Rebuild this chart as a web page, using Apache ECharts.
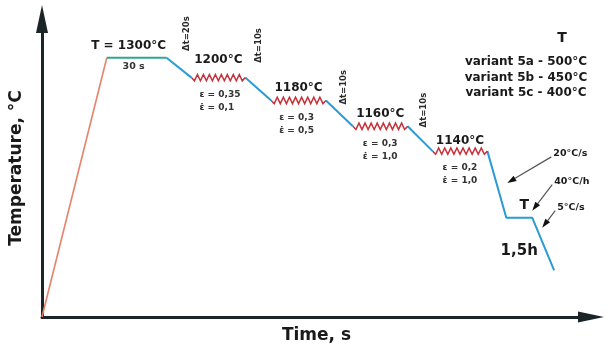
<!DOCTYPE html>
<html>
<head>
<meta charset="utf-8">
<script src="https://cdn.jsdelivr.net/npm/echarts@6/dist/echarts.min.js"></script>
<style>
  html, body { margin: 0; padding: 0; background: #fff; }
  #chart { width: 608px; height: 349px; }
</style>
</head>
<body>
<div id="chart"></div>
<script>
// Thermomechanical schedule, schematic units (time -> x, temperature -> y)
const heating = [[0, 0], [65, 261]];
const soak = [[65, 261], [125, 261]];
const passStart = [150, 230, 312, 392];
const passEnd = [204, 285, 367, 447];
const passLevel = [241, 218, 192, 167];
const passTemps = ['1200°C', '1180°C', '1160°C', '1140°C'];
const strains = ['0,35', '0,3', '0,3', '0,2'];
const strainRates = ['0,1', '0,5', '1,0', '1,0'];
const transferTimes = ['Δt=20s', 'Δt=10s', 'Δt=10s', 'Δt=10s'];
const coolingPath = [[447, 167], [466, 100], [492, 100], [514, 47]];
const coolingRates = ['20°C/s', '40°C/h', '5°C/s'];
const variants = ['variant 5a - 500°C', 'variant 5b - 450°C', 'variant 5c - 400°C'];
const soakLabel = 'T = 1300°C';
const soakTime = '30 s';
const holdLabel = 'T';
const holdTime = '1,5h';

const FONT = '"DejaVu Sans", "Liberation Sans", sans-serif';
const INK = '#1a1a1a';
const GREY = '#333';
const BLUE = '#2a9bd4';

// transfer lines between the soak and the passes, and between passes
const transfers = passStart.map((x, i) => i === 0
  ? [soak[1], [x, passLevel[0]]]
  : [[passEnd[i - 1], passLevel[i - 1]], [x, passLevel[i]]]);

const plain = (data, color, width) => ({
  type: 'line', data, showSymbol: false, silent: true,
  lineStyle: { color, width }, z: 3
});

const chart = echarts.init(document.getElementById('chart'), null, { renderer: 'canvas' });

const axisCommon = {
  type: 'value', min: 0,
  axisTick: { show: false }, axisLabel: { show: false }, splitLine: { show: false },
  nameLocation: 'middle',
  nameTextStyle: { fontFamily: FONT, fontWeight: 'bold', fontSize: 17, color: INK }
};

const tempLift = [-18, -13, -12, -10];
const strainIndent = [8, 8, 10, 10];

chart.setOption({
  animation: false,
  grid: { left: 40, right: 17, top: 19, bottom: 30 },
  xAxis: Object.assign({}, axisCommon, {
    max: 551, name: 'Time, s', nameGap: 10,
    axisLine: { show: true, symbol: ['none', 'triangle'], symbolSize: [11, 26],
      lineStyle: { color: '#1b2426', width: 3 } }
  }),
  yAxis: Object.assign({}, axisCommon, {
    max: 300, name: 'Temperature, °C', nameGap: 17,
    axisLine: { show: true, symbol: ['none', 'triangle'], symbolSize: [12, 28],
      lineStyle: { color: '#1b2426', width: 3 } }
  }),
  series: [
    plain(heating, '#e8836b', 1.6),
    plain(soak, '#2fa88a', 2.2),
    ...transfers.map(seg => plain(seg, BLUE, 2)),
    plain(coolingPath, BLUE, 2),
    {
      // deformation passes: zigzag with temperature and strain labels
      type: 'custom', silent: true, z: 4,
      data: passStart.map((x, i) => [x, passEnd[i], passLevel[i], i]),
      encode: { x: [0, 1], y: 2 },
      renderItem(params, api) {
        const i = api.value(3);
        const y = api.value(2);
        const a = api.coord([api.value(0), y]);
        const b = api.coord([api.value(1), y]);
        const teeth = 9, amp = 3.2;
        const step = (b[0] - a[0]) / (teeth * 2);
        const pts = [a];
        for (let k = 1; k < teeth * 2; k++) {
          pts.push([a[0] + k * step, a[1] + (k % 2 ? amp : -amp)]);
        }
        pts.push(b);
        const label = (x, yy, text, font, fill, align) => ({
          type: 'text', x, y: yy,
          style: { text, font, fill, align, verticalAlign: 'middle' }
        });
        return {
          type: 'group',
          children: [
            { type: 'polyline', shape: { points: pts },
              style: { stroke: '#c8313a', lineWidth: 1.5, fill: null } },
            label((a[0] + b[0]) / 2, a[1] + tempLift[i], passTemps[i],
              'bold 12px ' + FONT, INK, 'center'),
            label(a[0] + strainIndent[i], a[1] + 17, 'ε = ' + strains[i],
              'bold 9px ' + FONT, GREY, 'left'),
            label(a[0] + strainIndent[i], a[1] + 30, 'ε\u0307 = ' + strainRates[i],
              'bold 9px ' + FONT, GREY, 'left')
          ]
        };
      }
    }
  ]
});

// annotations anchored to points of the schedule
const P = pt => chart.convertToPixel({ gridIndex: 0 }, pt);
const text = (x, y, str, font, opt = {}) => ({
  type: 'text', x, y, rotation: opt.rot || 0, silent: true, z: 10,
  style: {
    text: str, font, fill: opt.fill || INK,
    textAlign: opt.align || 'center', textVerticalAlign: 'middle',
    align: opt.align || 'center', verticalAlign: 'middle'
  }
});
const leader = (from, tip) => {
  const dx = tip[0] - from[0], dy = tip[1] - from[1];
  const len = Math.hypot(dx, dy), ux = dx / len, uy = dy / len;
  const headLen = 9, headW = 3;
  const base = [tip[0] - ux * headLen, tip[1] - uy * headLen];
  return [
    { type: 'line', silent: true, z: 9,
      shape: { x1: from[0], y1: from[1], x2: base[0], y2: base[1] },
      style: { stroke: '#555', lineWidth: 1.2 } },
    { type: 'polygon', silent: true, z: 9,
      shape: { points: [tip,
        [base[0] - uy * headW, base[1] + ux * headW],
        [base[0] + uy * headW, base[1] - ux * headW]] },
      style: { fill: '#111' } }
  ];
};

const g = [];
const soakMid = P([(soak[0][0] + soak[1][0]) / 2, soak[0][1]]);
g.push(text(soakMid[0] - 8, soakMid[1] - 12, soakLabel, 'bold 12px ' + FONT));
g.push(text(soakMid[0] - 3, soakMid[1] + 9, soakTime, 'bold 9.5px ' + FONT, { fill: GREY }));

const dtOffset = [[-5, -44], [-12, -55], [-9, -39], [-9, -41]];
transfers.forEach((seg, i) => {
  const e = P(seg[1]);
  g.push(text(e[0] + dtOffset[i][0], e[1] + dtOffset[i][1], transferTimes[i],
    'bold 8.5px ' + FONT, { fill: '#2a2a2a', rot: Math.PI / 2 }));
});

// legend of the hold temperature variants
g.push(text(562, 38, 'T', 'bold 14px ' + FONT));
variants.forEach((v, i) => g.push(text(526, 62 + i * 15.5, v, 'bold 12px ' + FONT)));

const quenchA = P(coolingPath[0]), quenchB = P(coolingPath[1]);
const holdEnd = P(coolingPath[2]);
g.push(text(holdEnd[0] - 8, holdEnd[1] - 12, holdLabel, 'bold 14px ' + FONT));
g.push(text(holdEnd[0] - 13, holdEnd[1] + 33, holdTime, 'bold 15px ' + FONT));

const tips = [
  [(quenchA[0] + quenchB[0]) / 2 + 10.5, (quenchA[1] + quenchB[1]) / 2 - 1.5],
  [holdEnd[0], holdEnd[1] - 7],
  [holdEnd[0] + 10, holdEnd[1] + 10]
];
const labelShift = [[46, -29], [22, -29], [15, -20]];
coolingRates.forEach((r, i) => {
  const lx = tips[i][0] + labelShift[i][0], ly = tips[i][1] + labelShift[i][1];
  g.push(text(lx, ly, r, 'bold 9.5px ' + FONT, { align: 'left' }));
  g.push(...leader([lx - 2, ly + 3], tips[i]));
});

chart.setOption({ graphic: g });
</script>
</body>
</html>
